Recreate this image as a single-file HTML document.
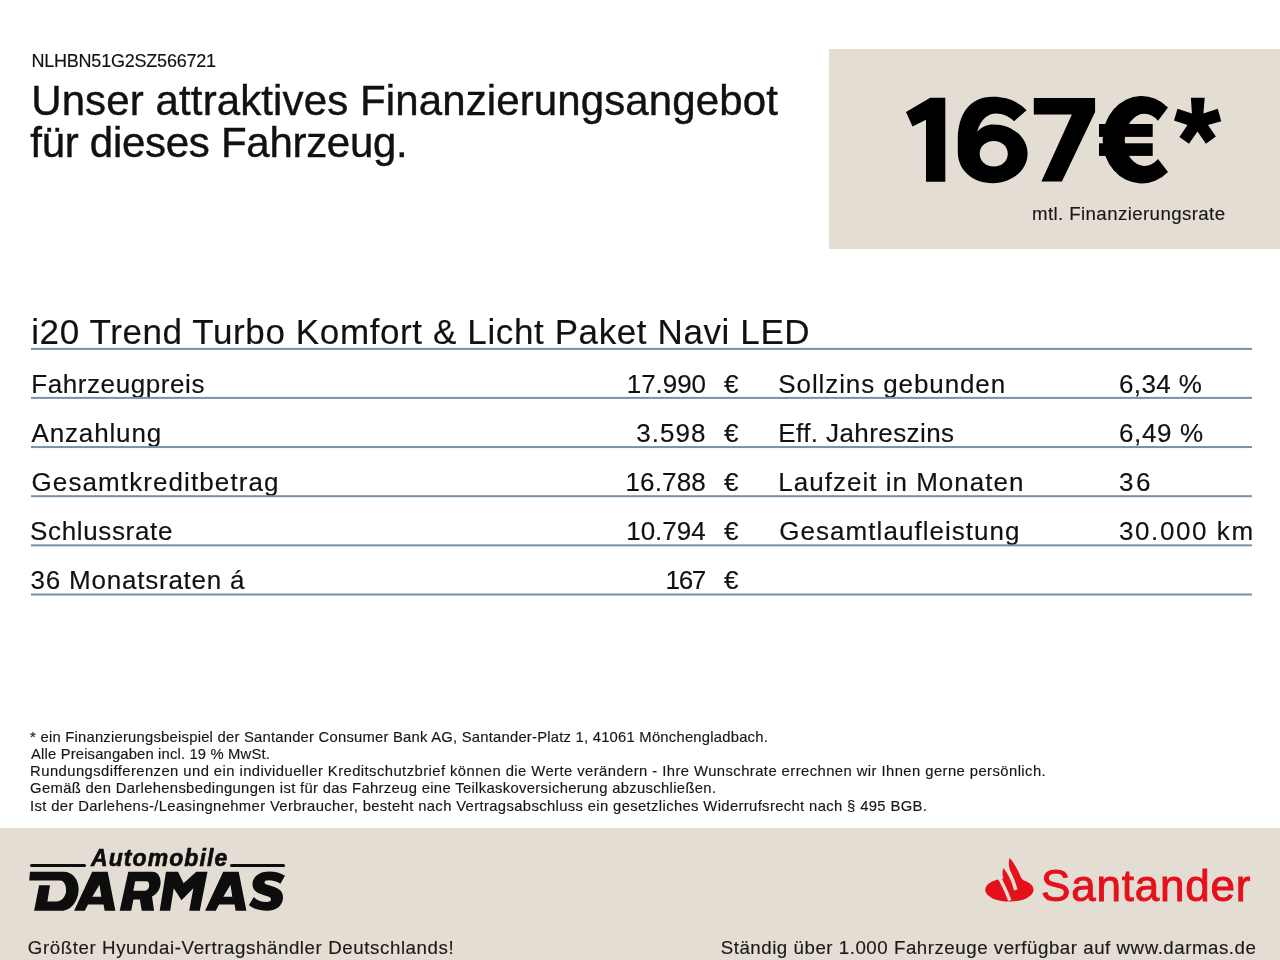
<!DOCTYPE html>
<html><head><meta charset="utf-8">
<style>
html,body{margin:0;padding:0;background:#fff;}
body{width:1280px;height:960px;position:relative;overflow:hidden;font-family:"Liberation Sans",sans-serif;color:#111;}
.t{position:absolute;white-space:nowrap;line-height:1;-webkit-text-stroke:0.15px currentColor;}
#wrap{position:absolute;left:0;top:0;width:1280px;height:960px;will-change:transform;}
.hr{position:absolute;left:31px;width:1221px;height:2px;background:#7a90a8;}
</style></head>
<body><div id="wrap">
<div class="t" style="left:31.4px;top:51.6px;font-size:18px;letter-spacing:-0.213px;font-weight:normal;color:#111;">NLHBN51G2SZ566721</div>
<div class="t" style="left:31.2px;top:80.3px;font-size:42px;letter-spacing:0.116px;font-weight:normal;color:#111;-webkit-text-stroke:0.4px #111">Unser attraktives Finanzierungsangebot</div>
<div class="t" style="left:30.3px;top:122.3px;font-size:42px;letter-spacing:-0.284px;font-weight:normal;color:#111;-webkit-text-stroke:0.4px #111">für dieses Fahrzeug.</div>
<div style="position:absolute;left:829px;top:49px;width:451px;height:200px;background:#e3ddd4"></div>
<div class="t" style="left:1032.0px;top:204.9px;font-size:18.7px;letter-spacing:0.39px;font-weight:normal;color:#1a1714;">mtl. Finanzierungsrate</div>
<div class="t" style="left:31.2px;top:313.75px;font-size:35px;letter-spacing:0.612px;font-weight:normal;color:#111;">i20 Trend Turbo Komfort &amp; Licht Paket Navi LED</div>
<div class="t" style="left:31.2px;top:370.5px;font-size:26px;letter-spacing:0.592px;font-weight:normal;color:#111;">Fahrzeugpreis</div>
<div class="t" style="left:31.5px;top:419.7px;font-size:26px;letter-spacing:0.85px;font-weight:normal;color:#111;">Anzahlung</div>
<div class="t" style="left:31.5px;top:468.9px;font-size:26px;letter-spacing:1.1px;font-weight:normal;color:#111;">Gesamtkreditbetrag</div>
<div class="t" style="left:30.0px;top:518.1px;font-size:26px;letter-spacing:0.65px;font-weight:normal;color:#111;">Schlussrate</div>
<div class="t" style="left:30.6px;top:567.25px;font-size:26px;letter-spacing:0.773px;font-weight:normal;color:#111;">36 Monatsraten á</div>
<div class="t" style="left:626.75px;top:370.5px;font-size:26px;letter-spacing:-0.05px;font-weight:normal;color:#111;">17.990</div>
<div class="t" style="left:636.3px;top:419.7px;font-size:26px;letter-spacing:1.05px;font-weight:normal;color:#111;">3.598</div>
<div class="t" style="left:625.5px;top:468.9px;font-size:26px;letter-spacing:0.14px;font-weight:normal;color:#111;">16.788</div>
<div class="t" style="left:626.2px;top:518.1px;font-size:26px;letter-spacing:0.0px;font-weight:normal;color:#111;">10.794</div>
<div class="t" style="left:665.6px;top:567.25px;font-size:26px;letter-spacing:-1.4px;font-weight:normal;color:#111;">167</div>
<div class="t" style="left:778.3px;top:370.5px;font-size:26px;letter-spacing:0.9px;font-weight:normal;color:#111;">Sollzins gebunden</div>
<div class="t" style="left:778.3px;top:419.7px;font-size:26px;letter-spacing:0.407px;font-weight:normal;color:#111;">Eff. Jahreszins</div>
<div class="t" style="left:778.3px;top:468.9px;font-size:26px;letter-spacing:1.011px;font-weight:normal;color:#111;">Laufzeit in Monaten</div>
<div class="t" style="left:779.3px;top:518.1px;font-size:26px;letter-spacing:1.041px;font-weight:normal;color:#111;">Gesamtlaufleistung</div>
<div class="t" style="left:1119.0px;top:370.5px;font-size:26px;letter-spacing:0.4px;font-weight:normal;color:#111;">6,34 %</div>
<div class="t" style="left:1119.0px;top:419.7px;font-size:26px;letter-spacing:0.64px;font-weight:normal;color:#111;">6,49 %</div>
<div class="t" style="left:1119.0px;top:468.9px;font-size:26px;letter-spacing:2.5px;font-weight:normal;color:#111;">36</div>
<div class="t" style="left:1119.0px;top:518.1px;font-size:26px;letter-spacing:1.588px;font-weight:normal;color:#111;">30.000 km</div>
<div class="t" style="left:724.0px;top:370.50px;font-size:26px;color:#111">€</div>
<div class="t" style="left:724.0px;top:419.70px;font-size:26px;color:#111">€</div>
<div class="t" style="left:724.0px;top:468.90px;font-size:26px;color:#111">€</div>
<div class="t" style="left:724.0px;top:518.10px;font-size:26px;color:#111">€</div>
<div class="t" style="left:724.0px;top:567.30px;font-size:26px;color:#111">€</div>
<svg style="position:absolute;left:0;top:0" width="1280" height="620"><rect x="31" y="347.9" width="1221" height="2" fill="#7a90a8"/><rect x="31" y="396.9" width="1221" height="2" fill="#7a90a8"/><rect x="31" y="446.05" width="1221" height="2" fill="#7a90a8"/><rect x="31" y="495.2" width="1221" height="2" fill="#7a90a8"/><rect x="31" y="544.35" width="1221" height="2" fill="#7a90a8"/><rect x="31" y="593.5" width="1221" height="2" fill="#7a90a8"/></svg>
<div class="t" style="left:30.1px;top:729.75px;font-size:14.8px;letter-spacing:0.229px;font-weight:normal;color:#161616;">* ein Finanzierungsbeispiel der Santander Consumer Bank AG, Santander-Platz 1, 41061 Mönchengladbach.</div>
<div class="t" style="left:31.1px;top:746.9px;font-size:14.8px;letter-spacing:0.155px;font-weight:normal;color:#161616;">Alle Preisangaben incl. 19 % MwSt.</div>
<div class="t" style="left:30.1px;top:764.1px;font-size:14.8px;letter-spacing:0.436px;font-weight:normal;color:#161616;">Rundungsdifferenzen und ein individueller Kreditschutzbrief können die Werte verändern - Ihre Wunschrate errechnen wir Ihnen gerne persönlich.</div>
<div class="t" style="left:30.1px;top:781.3px;font-size:14.8px;letter-spacing:0.333px;font-weight:normal;color:#161616;">Gemäß den Darlehensbedingungen ist für das Fahrzeug eine Teilkaskoversicherung abzuschließen.</div>
<div class="t" style="left:30.1px;top:798.5px;font-size:14.8px;letter-spacing:0.363px;font-weight:normal;color:#161616;">Ist der Darlehens-/Leasingnehmer Verbraucher, besteht nach Vertragsabschluss ein gesetzliches Widerrufsrecht nach § 495 BGB.</div>
<div style="position:absolute;left:0;top:828px;width:1280px;height:132px;background:#e3ddd4"></div>
<div class="t" style="left:27.8px;top:939.1px;font-size:18.7px;letter-spacing:0.591px;font-weight:normal;color:#1c1916;">Größter Hyundai-Vertragshändler Deutschlands!</div>
<div class="t" style="left:720.7px;top:939.1px;font-size:18.7px;letter-spacing:0.533px;font-weight:normal;color:#1c1916;">Ständig über 1.000 Fahrzeuge verfügbar auf www.darmas.de</div>
<svg style="position:absolute;left:0;top:0" width="1280" height="260" viewBox="0 0 1280 260">
<g fill="#000">
<polygon points="930.2,97.8 945.3,97.8 945.3,181.7 926,181.7 926,119.7 912.5,126.5 906,111.9"/>
<path fill-rule="evenodd" d="M1026.6,110.3 C1018,101 1006,96.8 993,96.8 C969,96.8 957.8,115 957.8,140 L957.8,152 C957.8,170.5 973,183.2 992.7,183.2 C1012,183.2 1027.6,170 1027.6,153.8 C1027.6,137 1012,124.4 993.5,124.4 C987,124.4 981,127 977.1,131.7 C981,119 988,113.5 996,113.5 C1003,113.5 1009,116.5 1014,121.25 Z M993.75,141 C985.5,141 979.7,146.5 979.7,153.8 C979.7,161 985.5,166.6 993.75,166.6 C1002,166.6 1007.8,161 1007.8,153.8 C1007.8,146.5 1002,141 993.75,141 Z"/>
<polygon points="1033.8,98 1095.1,98 1095.1,112 1061.9,181.4 1041.4,181.4 1071.9,114.4 1033.8,114.4"/>
<path fill-rule="evenodd" d="M1168,107.6 A39,43.7 0 1 0 1168,172 L1158,159.1 A19.8,26.1 0 1 1 1158,120.7 Z"/>
<rect x="1099" y="124" width="53.7" height="12.9"/>
<rect x="1099" y="143.3" width="53.7" height="12.6"/>
<polygon points="1190.9,97.8 1204.7,97.8 1203.4,113.4 1217.8,108.75 1221.25,121.25 1208,125 1215.9,136.6 1205.9,143.75 1197.5,131.6 1189,143.75 1179.4,136.9 1187.5,125 1174,120.6 1177.5,108.75 1191.9,113.4"/>
</g></svg>
<div style="position:absolute;left:29.6px;top:863.6px;width:56.4px;height:3px;background:#0d0d0d;border-radius:1.5px"></div>
<div style="position:absolute;left:230px;top:863.6px;width:54.7px;height:3px;background:#0d0d0d;border-radius:1.5px"></div>
<div class="t" style="left:91.0px;top:847.3px;font-size:23px;letter-spacing:1.078px;font-weight:bold;font-style:italic;-webkit-text-stroke:0.6px #0d0d0d;color:#0d0d0d;">Automobile</div>
<svg style="position:absolute;left:0;top:840px" width="300" height="90" viewBox="0 840 300 90">
<g fill="#0d0d0d" fill-rule="evenodd">
<path d="M29.95,871.8 L63.5,871.8 C73,871.8 78.6,880 78.6,889 C78.6,901 71,910.8 61.5,910.8 L34.1,910.8 L39.1,885.3 L50,885.3 L47.4,901.5 L56.25,901.5 C62,901.5 66.1,896 66.1,890 C66.1,884.5 63.5,880.6 60.4,880.6 L29.2,880.6 Z"/>
<path d="M92.2,871.8 L107.7,871.8 L115.4,910.8 L104.6,910.8 L103.6,904.5 L88,904.5 L84.8,910.8 L74.1,910.8 Z M92.3,896.8 L101.3,896.8 L99.5,884.8 Z"/>
<path d="M128.3,871.8 L152.3,871.8 C157.5,871.8 160.6,876.5 160.6,882.5 C160.6,889 157,894 152,896.5 L154.1,910.8 L141.8,910.8 L139.8,899.4 L133.4,899.4 L131.2,910.8 L119.7,910.8 Z M135.2,881.3 L146.2,881.3 C148.2,881.3 149.2,882.8 149.2,885 C149.2,888.3 147.3,890.8 144.5,890.8 L133.3,890.8 Z"/>
<path d="M166,871.8 L178,871.8 L183.6,883.3 L196.3,871.8 L207.5,871.8 L199.8,910.8 L189.2,910.8 L193.4,888.2 L181.5,900.2 L173.75,888.2 L170.2,910.8 L159.7,910.8 Z"/>
<path transform="translate(131,0)" d="M92.2,871.8 L107.7,871.8 L115.4,910.8 L104.6,910.8 L103.6,904.5 L88,904.5 L84.8,910.8 L74.1,910.8 Z M92.3,896.8 L101.3,896.8 L99.5,884.8 Z"/>
<path d="M285,875.7 C281,873 275,871.5 269.2,871.5 C259,871.5 252.5,877 252.5,884 C252.5,890 256,892.5 262,894.5 L268,896.5 C270,897.3 271,898 271,899.5 C271,901 269.5,902 266.5,902 C261,902 256.5,900 253.8,897 L248.9,905.1 C253,909 260,910.8 267,910.8 C277,910.8 283,905 283,897.5 C283,891 279,888.5 273,886.5 L266.5,884.5 C265,884 264.5,883.2 264.5,882.3 C264.5,881 265.7,880.2 268.5,880.2 C273,880.2 277.5,881.5 280.4,883.75 Z"/>
</g></svg>
<svg style="position:absolute;left:970px;top:845px" width="80" height="70" viewBox="970 845 80 70">
<g fill="#e4101a">
<ellipse cx="1009.4" cy="889.8" rx="24.2" ry="11.8"/>
<path d="M1003.3,868.3 C1001.8,872.5 1002.5,877 1004.8,882 L1014,884 C1012,877 1008.5,871.5 1003.3,868.3 Z"/>
<path d="M1009.7,857.8 C1008,863.5 1009,868 1011.2,873 L1016,889 L1026,884 L1021,877.5 C1018.5,871.5 1015.5,865 1009.7,857.8 Z"/>
</g>
<g stroke="#e3ddd4" fill="none">
<path d="M998,876 C1001.5,881 1006,890.5 1009.8,900.5" stroke-width="3.4"/>
<path d="M1005.6,868 C1008.6,871.5 1013,879.5 1015.8,890" stroke-width="3.6"/>
</g>
</svg>
<div class="t" style="left:1041.0px;top:864.0px;font-size:44px;letter-spacing:0.787px;font-weight:normal;-webkit-text-stroke:0.9px #e4101a;color:#e4101a;">Santander</div>

</div></body></html>
